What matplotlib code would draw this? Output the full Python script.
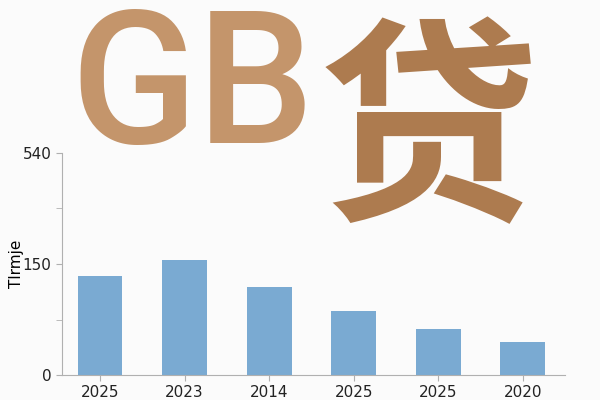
import numpy as np
import matplotlib.pyplot as plt

# data
years = ['2025', '2023', '2014', '2025', '2025', '2020']
values = [134, 155, 119, 86, 62, 45]
ytick_pos = [0, 150, 300]
ytick_labels = ['0', '150', '540']
ylabel = 'Tlrmje'

bar_color = '#7aaad2'
axis_color = '#b0b0b0'

fig = plt.figure(figsize=(6, 4), dpi=100, facecolor='#fbfbfb')
ax = fig.add_axes([62/600, 25/400, 503/600, 222/400])
ax.set_facecolor('#fbfbfb')

x = np.arange(len(values))
ax.bar(x, values, width=0.53, color=bar_color)

ax.set_xlim(-0.45, 5.5)
ax.set_ylim(0, 300)
ax.set_xticks(x)
ax.set_xticklabels(years, fontsize=11)
ax.set_yticks(ytick_pos)
ax.set_yticklabels(ytick_labels, fontsize=11)
ax.set_yticks([75, 225], minor=True)
ax.set_ylabel(ylabel, fontsize=11)
ax.yaxis.set_label_coords(-0.075, 0.5)

for s in ['top', 'right']:
    ax.spines[s].set_visible(False)
for s in ['left', 'bottom']:
    ax.spines[s].set_color(axis_color)
ax.tick_params(colors=axis_color, labelcolor='#222222', length=4)
ax.tick_params(which='minor', colors=axis_color, length=4)

# big title-like text
fig.text(70/600, 1 - 143/400, 'GB', fontsize=134, color='#c4956b', weight='medium',
         family=['Roboto', 'DejaVu Sans'], ha='left', va='baseline', zorder=10)
fig.text(428/600, 1 - 140/400, '贷', fontsize=158, color='#ad7b4f', weight='bold',
         family=['Noto Sans CJK SC', 'DejaVu Sans'], ha='center', va='center', zorder=10)

fig.savefig('out.png', dpi=100, facecolor=fig.get_facecolor())
